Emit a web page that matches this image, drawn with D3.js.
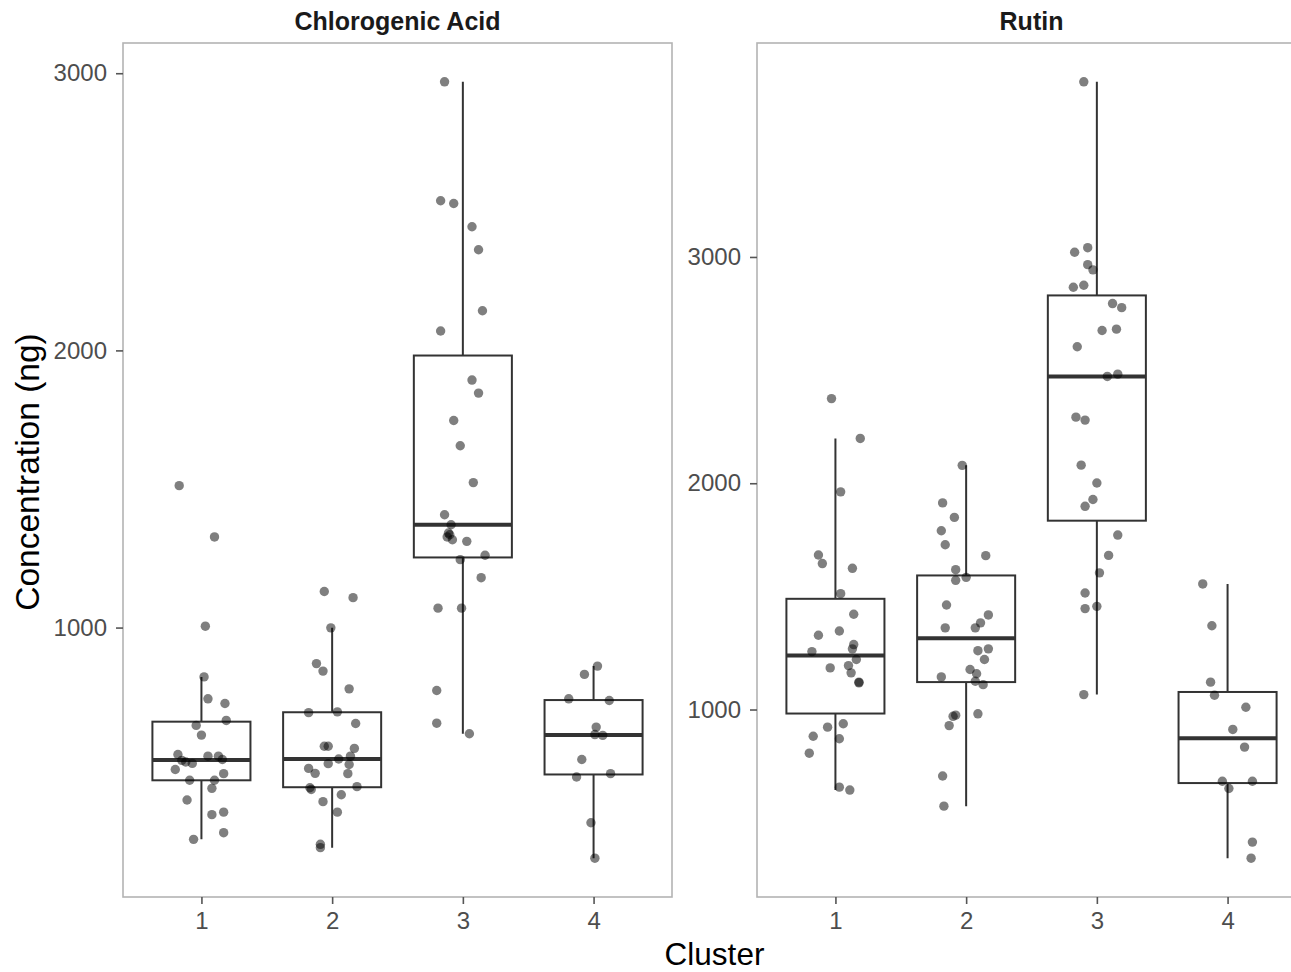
<!DOCTYPE html>
<html>
<head>
<meta charset="utf-8">
<script src="https://cdn.jsdelivr.net/npm/d3@7"></script>
<style>
  body { margin: 0; background: #fff; }
  text { font-family: "Liberation Sans", Arial, Helvetica, sans-serif; }
</style>
</head>
<body>
<svg id="chart" width="1291" height="972"></svg>
<script>
// facet titles and cluster labels
var panelTitles = ["Chlorogenic Acid", "Rutin"];
var clusters = [1, 2, 3, 4];
var yTicks = [1000, 2000, 3000];

// concentrations (ng) per cluster
var chlorogenicValues = [
  [1512, 1327, 1005, 822, 743, 726, 665, 647, 612, 542, 536, 536, 524, 521, 515, 510, 488, 473, 449, 449, 420, 378, 334, 325, 260, 236],
  [1130, 1108, 999, 870, 843, 779, 696, 693, 654, 572, 572, 564, 536, 526, 509, 506, 492, 474, 473, 426, 422, 416, 397, 372, 334, 218, 206],
  [2969, 2540, 2530, 2446, 2363, 2143, 2070, 1893, 1846, 1747, 1656, 1523, 1407, 1371, 1341, 1335, 1327, 1317, 1311, 1261, 1245, 1180, 1070, 1070, 773, 655, 617],
  [861, 831, 743, 737, 641, 614, 611, 524, 473, 461, 296, 168]
];
// horizontal jitter of each point (cluster units)
var chlorogenicJitter = [
  [-0.17, 0.10, 0.03, 0.02, 0.05, 0.18, 0.19, -0.04, 0, -0.18, 0.05, 0.13, 0.16, -0.15, -0.12, -0.07, -0.20, 0.17, -0.09, 0.10, 0.08, -0.11, 0.17, 0.08, 0.17, -0.06],
  [-0.06, 0.16, -0.01, -0.12, -0.07, 0.13, 0.04, -0.18, 0.18, -0.06, -0.03, 0.17, 0.14, 0.05, -0.03, 0.13, -0.18, -0.13, 0.12, 0.19, -0.17, -0.16, 0.07, -0.07, 0.04, -0.09, -0.09],
  [-0.14, -0.17, -0.07, 0.07, 0.12, 0.15, -0.17, 0.07, 0.12, -0.07, -0.02, 0.08, -0.14, -0.09, -0.11, -0.10, -0.12, -0.08, 0.03, 0.17, -0.02, 0.14, -0.19, -0.01, -0.20, -0.20, 0.05],
  [0.03, -0.07, -0.19, 0.12, 0.02, 0.01, 0.07, -0.09, 0.13, -0.13, -0.02, 0.01]
];

var rutinValues = [
  [2374, 2198, 1962, 1683, 1645, 1624, 1512, 1421, 1347, 1328, 1287, 1268, 1256, 1221, 1194, 1184, 1162, 1121, 1118, 937, 922, 882, 871, 807, 657, 644],
  [2079, 1913, 1849, 1790, 1728, 1680, 1618, 1584, 1571, 1462, 1418, 1383, 1361, 1361, 1268, 1260, 1221, 1177, 1158, 1144, 1125, 1110, 981, 975, 970, 929, 706, 573],
  [3774, 3041, 3021, 2966, 2943, 2875, 2866, 2794, 2776, 2681, 2675, 2603, 2482, 2472, 2292, 2279, 2080, 2001, 1928, 1898, 1771, 1681, 1604, 1515, 1456, 1446, 1066],
  [1555, 1370, 1121, 1063, 1010, 912, 834, 683, 683, 651, 414, 343]
];
var rutinJitter = [
  [-0.03, 0.19, 0.04, -0.13, -0.10, 0.13, 0.04, 0.14, 0.03, -0.13, 0.14, 0.13, -0.18, 0.16, 0.10, -0.04, 0.12, 0.18, 0.18, 0.06, -0.06, -0.17, 0.03, -0.20, 0.03, 0.11],
  [-0.03, -0.18, -0.09, -0.19, -0.16, 0.15, -0.08, 0, -0.08, -0.15, 0.17, 0.11, -0.16, 0.07, 0.17, 0.09, 0.14, 0.03, 0.08, -0.19, 0.07, 0.13, 0.09, -0.08, -0.10, -0.13, -0.18, -0.17],
  [-0.10, -0.07, -0.17, -0.07, -0.03, -0.10, -0.18, 0.12, 0.19, 0.15, 0.04, -0.15, 0.16, 0.08, -0.16, -0.09, -0.12, 0, -0.03, -0.09, 0.16, 0.09, 0.02, -0.09, 0, -0.09, -0.10],
  [-0.19, -0.12, -0.13, -0.10, 0.14, 0.04, 0.13, -0.04, 0.19, 0.01, 0.19, 0.18]
];

var svg = d3.select("#chart");
var panelW = 549, panelTop = 43, panelBottom = 897;
var panelLeft = [123, 757];
var boxColor = "#333333", textGrey = "#4d4d4d";

// ggplot-style boxplot stats (type 7 quantiles, 1.5 IQR whiskers)
var boxStats = function(vals) {
  var s = vals.slice().sort(d3.ascending);
  var q1 = d3.quantile(s, 0.25), med = d3.quantile(s, 0.5), q3 = d3.quantile(s, 0.75);
  var iqr = q3 - q1;
  var lo = d3.min(s.filter(function(v) { return v >= q1 - 1.5 * iqr; }));
  var hi = d3.max(s.filter(function(v) { return v <= q3 + 1.5 * iqr; }));
  return {q1: q1, med: med, q3: q3, lo: lo, hi: hi};
};

var drawPanel = function(p, values, jitter) {
  var x0 = panelLeft[p];
  var g = svg.append("g");

  var all = d3.merge(values);
  var ext = d3.extent(all), pad = (ext[1] - ext[0]) * 0.05;

  var x = d3.scaleLinear().domain([0.4, 4.6]).range([x0, x0 + panelW]);
  var y = d3.scaleLinear().domain([ext[0] - pad, ext[1] + pad]).range([panelBottom, panelTop]);
  var halfBox = 0.375;

  // panel border
  g.append("rect")
    .attr("x", x0).attr("y", panelTop)
    .attr("width", panelW).attr("height", panelBottom - panelTop)
    .style("fill", "none")
    .style("stroke", "#b3b3b3")
    .style("stroke-width", 1.6);

  // strip title
  g.append("text")
    .attr("x", x0 + panelW / 2).attr("y", 30)
    .attr("text-anchor", "middle")
    .style("font-size", "25px").style("font-weight", "bold").style("fill", "#1a1a1a")
    .text(panelTitles[p]);

  // axes
  var yAxis = g.append("g")
    .attr("transform", "translate(" + x0 + ",0)")
    .call(d3.axisLeft(y).tickValues(yTicks).tickSize(7).tickPadding(9).tickFormat(d3.format("d")));
  var xAxis = g.append("g")
    .attr("transform", "translate(0," + panelBottom + ")")
    .call(d3.axisBottom(x).tickValues(clusters).tickSize(7).tickPadding(8).tickFormat(d3.format("d")));
  [yAxis, xAxis].forEach(function(a) {
    a.select(".domain").remove();
    a.selectAll(".tick line").style("stroke", "#555").style("stroke-width", 1.6);
    a.selectAll(".tick text").style("font-size", "24px").style("fill", textGrey)
      .style("font-family", "'Liberation Sans', Arial, Helvetica, sans-serif");
  });

  var stats = values.map(boxStats);

  // whiskers
  g.selectAll(".whisk").data(stats).enter().append("path")
    .attr("d", function(d, i) {
      var cx = x(clusters[i]);
      return "M" + cx + "," + y(d.hi) + "V" + y(d.q3) + "M" + cx + "," + y(d.q1) + "V" + y(d.lo);
    })
    .style("stroke", boxColor).style("stroke-width", 2).style("fill", "none");

  // boxes
  g.selectAll(".box").data(stats).enter().append("rect")
    .attr("x", function(d, i) { return x(clusters[i] - halfBox); })
    .attr("width", function(d, i) { return x(clusters[i] + halfBox) - x(clusters[i] - halfBox); })
    .attr("y", function(d) { return y(d.q3); })
    .attr("height", function(d) { return y(d.q1) - y(d.q3); })
    .style("fill", "#fff").style("stroke", boxColor).style("stroke-width", 2);

  // medians
  g.selectAll(".med").data(stats).enter().append("line")
    .attr("x1", function(d, i) { return x(clusters[i] - halfBox); })
    .attr("x2", function(d, i) { return x(clusters[i] + halfBox); })
    .attr("y1", function(d) { return y(d.med); })
    .attr("y2", function(d) { return y(d.med); })
    .style("stroke", boxColor).style("stroke-width", 4);

  // jittered points
  var pts = [];
  values.forEach(function(vals, i) {
    vals.forEach(function(v, j) {
      pts.push({x: clusters[i] + jitter[i][j], value: v});
    });
  });
  g.selectAll(".pt").data(pts).enter().append("circle")
    .attr("cx", function(d) { return x(d.x); })
    .attr("cy", function(d) { return y(d.value); })
    .attr("r", 4.7)
    .style("fill", "#000").style("fill-opacity", 0.5);
};

drawPanel(0, chlorogenicValues, chlorogenicJitter);
drawPanel(1, rutinValues, rutinJitter);

// axis titles
svg.append("text")
  .attr("x", 714.5).attr("y", 965)
  .attr("text-anchor", "middle")
  .style("font-size", "31.5px").style("fill", "#000")
  .text("Cluster");

svg.append("text")
  .attr("transform", "translate(39,472) rotate(-90)")
  .attr("text-anchor", "middle")
  .style("font-size", "33.5px").style("fill", "#000")
  .text("Concentration (ng)");
</script>
</body>
</html>
